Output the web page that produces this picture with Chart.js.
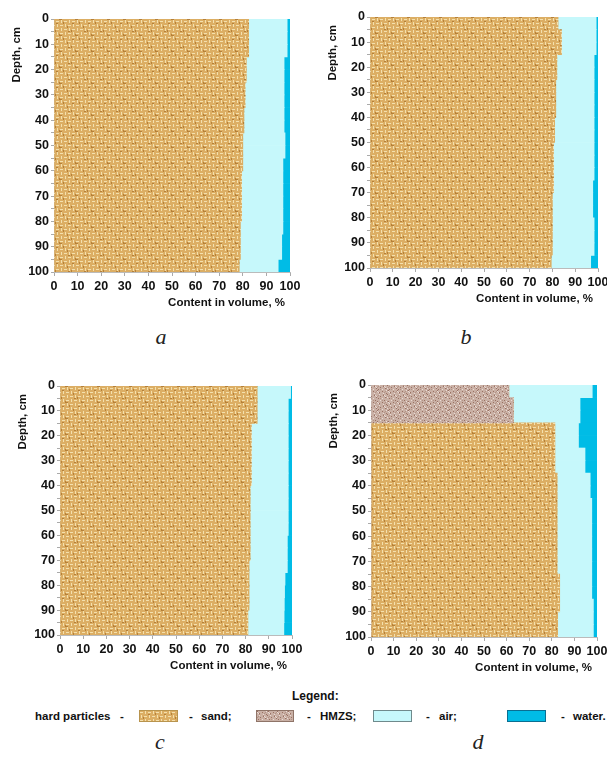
<!DOCTYPE html>
<html lang="en">
<head>
    <meta charset="UTF-8">
    <title>Soil content in volume by depth</title>
    <script src="https://cdn.jsdelivr.net/npm/chart.js"></script>
    <style>
        body {
            margin: 0;
            width: 607px;
            height: 758px;
            position: relative;
            overflow: hidden;
            background: #fff;
            font-family: "Liberation Sans", Arial, sans-serif;
        }
        canvas { position: absolute; }
        #panelA { left: 0px;   top: 4px; }
        #panelB { left: 316px; top: 2px; }
        #panelC { left: 6px;   top: 371px; }
        #panelD { left: 317px; top: 370px; }
        .caption {
            position: absolute;
            transform: translate(-50%, -50%);
            font: italic 22px "Liberation Serif", "DejaVu Serif", serif;
            color: #222;
        }
        .lg {
            position: absolute;
            transform: translateY(-50%);
            font: bold 11.5px "Liberation Sans", Arial, sans-serif;
            color: #111;
            white-space: nowrap;
        }
        .sw {
            position: absolute;
            height: 12px;
            box-sizing: border-box;
        }
    </style>
</head>
<body>
    <canvas id="panelA" width="304" height="313"></canvas>
    <canvas id="panelB" width="296" height="311"></canvas>
    <canvas id="panelC" width="300" height="309"></canvas>
    <canvas id="panelD" width="294" height="312"></canvas>

    <div class="caption" style="left:161px; top:337px;">a</div>
    <div class="caption" style="left:466px; top:337px;">b</div>
    <div class="caption" style="left:160px; top:742px;">c</div>
    <div class="caption" style="left:478px; top:742px;">d</div>

    <div class="lg" style="left:292px; top:696px; font-size:12px;">Legend:</div>
    <div class="lg" style="left:35px;  top:716px;">hard particles</div>
    <div class="lg" style="left:120px; top:716px;">-</div>
    <div class="sw" id="swSand" style="left:139px; top:710px; width:39px; border:1px solid #b8944e;"></div>
    <div class="lg" style="left:189px; top:716px;">-</div>
    <div class="lg" style="left:201px; top:716px;">sand;</div>
    <div class="sw" id="swHmzs" style="left:256px; top:710px; width:38px; border:1px solid #8f7468;"></div>
    <div class="lg" style="left:307px; top:716px;">-</div>
    <div class="lg" style="left:320px; top:716px;">HMZS;</div>
    <div class="sw" style="left:373px; top:710px; width:39px; background:#c6f8fb; border:1px solid #6f8a8c;"></div>
    <div class="lg" style="left:426px; top:716px;">-</div>
    <div class="lg" style="left:439px; top:716px;">air;</div>
    <div class="sw" style="left:507px; top:710px; width:39px; background:#00bce6; border:1px solid #0a6f92;"></div>
    <div class="lg" style="left:561px; top:716px;">-</div>
    <div class="lg" style="left:573px; top:716px;">water.</div>

    <script>
        // middle of each 5 cm layer, 0-100 cm
        const layerMid = [2.5, 7.5, 12.5, 17.5, 22.5, 27.5, 32.5, 37.5, 42.5, 47.5,
                          52.5, 57.5, 62.5, 67.5, 72.5, 77.5, 82.5, 87.5, 92.5, 97.5];

        // panel a
        const sandA  = [82.5, 82.5, 82.5, 81.5, 81.5, 81, 81, 80.5, 80.5, 80, 80, 80, 79.5, 79.5, 79.5, 79.5, 79, 79, 79, 78.5];
        const airA   = [16.3, 16.3, 16.3, 16.0, 16.0, 16.5, 16.5, 17.0, 17.0, 17.9, 17.9, 17.0, 17.5, 17.5, 17.5, 17.5, 18.0, 17.5, 17.5, 16.5];
        const waterA = [1.2, 1.2, 1.2, 2.5, 2.5, 2.5, 2.5, 2.5, 2.5, 2.1, 2.1, 3, 3, 3, 3, 3, 3, 3.5, 3.5, 5];

        // panel b
        const sandB  = [82.5, 84, 84, 82, 82, 81.5, 81.5, 81.5, 81, 81, 80.5, 80.5, 80.5, 80.5, 80, 80, 80, 80, 80, 79.5];
        const airB   = [16.7, 15.2, 15.2, 16.3, 16.3, 16.8, 16.8, 16.8, 17.3, 17.3, 17.8, 17.8, 17.8, 17.2, 17.7, 17.7, 18.3, 18.3, 18.3, 17.3];
        const waterB = [0.8, 0.8, 0.8, 1.7, 1.7, 1.7, 1.7, 1.7, 1.7, 1.7, 1.7, 1.7, 1.7, 2.3, 2.3, 2.3, 1.7, 1.7, 1.7, 3.2];

        // panel c
        const sandC  = [85, 85, 85, 82.5, 82.5, 82.5, 82.5, 82.5, 82, 82, 82, 82, 82, 82, 81.5, 81.5, 81.5, 81.5, 81, 81];
        const airC   = [14.4, 13.4, 13.4, 15.9, 15.9, 15.9, 15.9, 15.9, 16.4, 16.4, 16.4, 16.4, 16.0, 16.0, 16.5, 15.5, 15.3, 15.2, 15.6, 15.5];
        const waterC = [0.6, 1.6, 1.6, 1.6, 1.6, 1.6, 1.6, 1.6, 1.6, 1.6, 1.6, 1.6, 2.0, 2.0, 2.0, 3.0, 3.2, 3.3, 3.4, 3.5];

        // panel d (HMZS in the top 15 cm)
        const hmzsD  = [61, 63, 63, 0, 0, 0, 0, 0, 0, 0, 0, 0, 0, 0, 0, 0, 0, 0, 0, 0];
        const sandD  = [0, 0, 0, 81.4, 81.4, 81.4, 81.4, 82.4, 82.4, 82.4, 82.4, 82.4, 82.4, 82.4, 82.4, 83.5, 83.5, 83.5, 82.6, 82.6];
        const airD   = [36.9, 29.5, 29.5, 10.4, 10.4, 13.3, 13.3, 14.6, 14.6, 15.3, 15.3, 15.3, 15.3, 15.3, 15.3, 14.2, 14.2, 14.9, 15.8, 15.8];
        const waterD = [2.1, 7.5, 7.5, 8.2, 8.2, 5.3, 5.3, 3.0, 3.0, 2.3, 2.3, 2.3, 2.3, 2.3, 2.3, 2.3, 2.3, 1.6, 1.6, 1.6];

        const yTitle = 'Depth, cm';
        const xTitle = 'Content in volume, %';

        // textures for the hatched fills
        function sandTile() {
            const c = document.createElement('canvas');
            c.width = 16; c.height = 16;
            const g = c.getContext('2d');
            g.fillStyle = '#dcae64';
            g.fillRect(0, 0, 16, 16);
            for (let i = 0; i < 4; i++) {
                for (let j = 0; j < 4; j++) {
                    const x = i * 4, y = j * 4;
                    g.fillStyle = '#f4e0ad';
                    if ((i + j) % 2 === 0) g.fillRect(x, y + 1, 3, 1);
                    else g.fillRect(x + 1, y, 1, 3);
                    g.fillStyle = '#b58039';
                    if ((i * 3 + j) % 4 === 1) g.fillRect(x + 3, y + 2, 1, 2);
                    if ((i + j * 3) % 5 === 2) g.fillRect(x, y + 3, 2, 1);
                }
            }
            return c;
        }

        function hmzsTile() {
            const c = document.createElement('canvas');
            c.width = 20; c.height = 20;
            const g = c.getContext('2d');
            g.fillStyle = '#c9b0a5';
            g.fillRect(0, 0, 20, 20);
            for (let x = 0; x < 20; x++) {
                for (let y = 0; y < 20; y++) {
                    const h = (x * 37 + y * 91 + x * y * 13) % 11;
                    if (h === 0) { g.fillStyle = '#9a7062'; g.fillRect(x, y, 1, 1); }
                    else if (h === 3) { g.fillStyle = '#ebdcd6'; g.fillRect(x, y, 1, 1); }
                    else if (h === 7) { g.fillStyle = '#b39285'; g.fillRect(x, y, 1, 1); }
                }
            }
            return c;
        }

        const sandCanvas = sandTile();
        const hmzsCanvas = hmzsTile();
        const tmp = document.createElement('canvas').getContext('2d');
        const sandFill = tmp.createPattern(sandCanvas, 'repeat');
        const hmzsFill = tmp.createPattern(hmzsCanvas, 'repeat');
        const airFill = '#c6f8fb';
        const waterFill = '#00bce6';

        document.getElementById('swSand').style.background = 'url(' + sandCanvas.toDataURL() + ')';
        document.getElementById('swHmzs').style.background = 'url(' + hmzsCanvas.toDataURL() + ')';

        const tickFont = { family: '"Liberation Sans", Arial, sans-serif', size: 12.5, weight: 'bold' };

        const axisTitles = {
            id: 'axisTitles',
            afterDraw(chart) {
                const { ctx, chartArea } = chart;
                ctx.save();
                ctx.font = 'bold 11.5px "Liberation Sans", Arial, sans-serif';
                ctx.fillStyle = '#111';
                ctx.textBaseline = 'middle';
                ctx.textAlign = 'right';
                ctx.fillText(xTitle, chartArea.right - 5, chartArea.bottom + 31);
                ctx.translate(chartArea.left - 37, chartArea.top + 8);
                ctx.rotate(-Math.PI / 2);
                ctx.fillText(yTitle, 0, 0);
                ctx.restore();
            }
        };

        function makePanel(id, layers) {
            const ctx = document.getElementById(id).getContext('2d');
            return new Chart(ctx, {
                type: 'bar',
                data: {
                    datasets: layers.map(l => ({
                        label: l.name,
                        data: l.values.map((v, i) => ({ x: v, y: layerMid[i] })),
                        backgroundColor: l.fill,
                        borderWidth: 0,
                        barPercentage: 1,
                        categoryPercentage: 1
                    }))
                },
                options: {
                    indexAxis: 'y',
                    responsive: false,
                    animation: false,
                    layout: { padding: { top: 15, right: 14, left: 0, bottom: 0 } },
                    plugins: { legend: { display: false }, tooltip: { enabled: false } },
                    scales: {
                        x: {
                            type: 'linear',
                            stacked: true,
                            min: 0,
                            max: 100,
                            ticks: { stepSize: 10, autoSkip: false, maxRotation: 0, minRotation: 0, font: tickFont, color: '#111', padding: 3 },
                            grid: { drawOnChartArea: false, tickLength: 4, color: '#aaa' },
                            border: { color: '#bbb' },
                            afterFit: s => { s.height = 45; }
                        },
                        y: {
                            type: 'linear',
                            stacked: true,
                            reverse: true,
                            min: 0,
                            max: 100,
                            offset: false,
                            ticks: {
                                stepSize: 5,
                                autoSkip: false,
                                font: tickFont,
                                color: '#111',
                                padding: 2,
                                callback: v => (v % 10 === 0 ? v : '')
                            },
                            grid: { drawOnChartArea: false, offset: false, tickLength: 3, color: '#aaa' },
                            border: { color: '#bbb' },
                            afterFit: s => { s.width = 54; }
                        }
                    }
                },
                plugins: [axisTitles]
            });
        }

        makePanel('panelA', [
            { name: 'sand', values: sandA, fill: sandFill },
            { name: 'air', values: airA, fill: airFill },
            { name: 'water', values: waterA, fill: waterFill }
        ]);
        makePanel('panelB', [
            { name: 'sand', values: sandB, fill: sandFill },
            { name: 'air', values: airB, fill: airFill },
            { name: 'water', values: waterB, fill: waterFill }
        ]);
        makePanel('panelC', [
            { name: 'sand', values: sandC, fill: sandFill },
            { name: 'air', values: airC, fill: airFill },
            { name: 'water', values: waterC, fill: waterFill }
        ]);
        makePanel('panelD', [
            { name: 'HMZS', values: hmzsD, fill: hmzsFill },
            { name: 'sand', values: sandD, fill: sandFill },
            { name: 'air', values: airD, fill: airFill },
            { name: 'water', values: waterD, fill: waterFill }
        ]);
    </script>
</body>
</html>
